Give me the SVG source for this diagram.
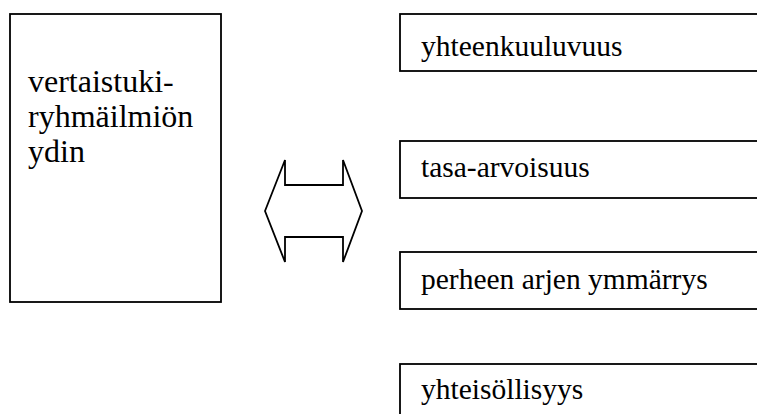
<svg xmlns="http://www.w3.org/2000/svg" width="757" height="414" viewBox="0 0 757 414">
<style>
.box{fill:#fff;stroke:#000;stroke-width:1.8}
text{font-family:'Liberation Serif','Times New Roman',serif;fill:#000}
.big{font-size:32px}
.med{font-size:29.5px}
</style>
<rect width="757" height="414" fill="#fff"/>
<g id="core">
<rect class="box" x="10" y="14" width="211" height="288"/>
<text class="big" x="28" y="92">vertaistuki-</text>
<text class="big" x="28" y="127">ryhmäilmiön</text>
<text class="big" x="28" y="162">ydin</text>
</g>
<g id="connectors">
<polygon class="box" points="265,211 285,160 285,185 343,185 343,160 362,211 343,262 343,237 285,237 285,262"/>
</g>
<g id="n1">
<rect class="box" x="400" y="14" width="380" height="57"/>
<text class="med" x="421" y="56">yhteenkuuluvuus</text>
</g>
<g id="n2">
<rect class="box" x="400" y="141" width="380" height="57"/>
<text class="med" x="421" y="177">tasa-arvoisuus</text>
</g>
<g id="n3">
<rect class="box" x="400" y="252" width="380" height="57"/>
<text class="med" x="421" y="289">perheen arjen ymmärrys</text>
</g>
<g id="n4">
<rect class="box" x="400" y="364" width="380" height="57"/>
<text class="med" x="421" y="399">yhteisöllisyys</text>
</g>
</svg>
